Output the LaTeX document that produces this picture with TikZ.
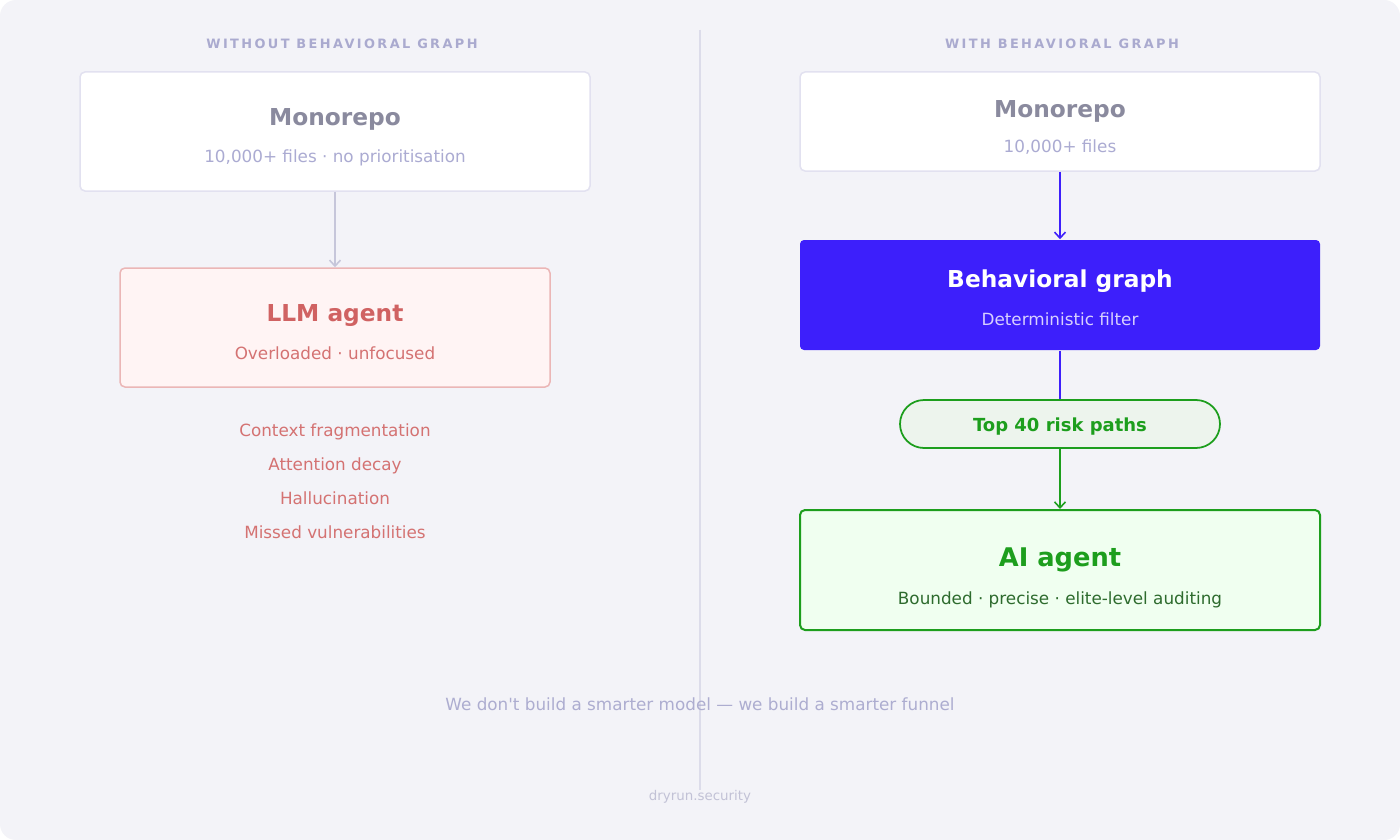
\documentclass[tikz,border=0pt]{standalone}
\usepackage{fontspec}
\setmainfont{DejaVu Sans}[Ligatures=TeXOff]
\usetikzlibrary{arrows.meta}
\definecolor{bgc}{HTML}{F3F3F8}
\definecolor{hdrc}{HTML}{AAAACF}
\definecolor{boxline}{HTML}{E2E1F0}
\definecolor{monot}{HTML}{8A8A9E}
\definecolor{subt}{HTML}{ABABD2}
\definecolor{greyarrow}{HTML}{C6C6DA}
\definecolor{llmfill}{HTML}{FFF4F4}
\definecolor{llmline}{HTML}{EBB6B6}
\definecolor{llmtitle}{HTML}{D06262}
\definecolor{llmsub}{HTML}{D47272}
\definecolor{blu}{HTML}{3D1FFB}
\definecolor{blusub}{HTML}{D8D0FF}
\definecolor{grn}{HTML}{1D9E1D}
\definecolor{pillfill}{HTML}{EDF4ED}
\definecolor{aifill}{HTML}{F0FFF0}
\definecolor{aisub}{HTML}{2D6B2D}
\definecolor{divc}{HTML}{DCDCEA}
\definecolor{footc}{HTML}{ADADD0}
\definecolor{brandc}{HTML}{C2C2D6}
\begin{document}
\begin{tikzpicture}[x=1pt,y=-1pt,
  box/.style={draw, line width=1.5pt, rounded corners=5pt, inner sep=0pt},
  hdr/.style={anchor=base, font=\fontsize{12.9}{15}\selectfont\bfseries\addfontfeature{LetterSpace=18.5}, text=hdrc},
  ttl/.style={anchor=base, font=\fontsize{23.3}{28}\selectfont\bfseries},
  sub/.style={anchor=base, font=\fontsize{16.8}{20}\selectfont},
  conn/.style={line width=1.6pt, -{Straight Barb[length=6pt,width=11pt,line width=1.6pt]}},
]
\useasboundingbox (0,0) rectangle (1400,840);
\fill[white] (0,0) rectangle (1400,840);
\fill[bgc, rounded corners=16pt] (0,0) rectangle (1400,840);
% divider
\draw[divc, line width=1.5pt] (700,30) -- (700,790);
% headers
\node[hdr] (hl) at (342,48.5) {WITHOUT BEHAVIORAL GRAPH};
\node[hdr] (hr) at (1062,48.5) {WITH BEHAVIORAL GRAPH};
% left column
\node[box, draw=boxline, fill=white, minimum width=510pt, minimum height=119pt] (monoL) at (335,131.5) {};
\node[ttl, text=monot] (monoLt) at (335,126) {Monorepo};
\node[sub, text=subt] (monoLs) at (335,162) {10,000+ files · no prioritisation};
\node[box, draw=llmline, fill=llmfill, minimum width=430pt, minimum height=119pt] (llm) at (335,327.5) {};
\node[ttl, text=llmtitle] (llmt) at (335,321.5) {LLM agent};
\node[sub, text=llmsub] (llms) at (335,359) {Overloaded · unfocused};
\node[sub, text=llmsub] (b1) at (335,436) {Context fragmentation};
\node[sub, text=llmsub] (b2) at (335,470) {Attention decay};
\node[sub, text=llmsub] (b3) at (335,504) {Hallucination};
\node[sub, text=llmsub] (b4) at (335,538) {Missed vulnerabilities};
\draw[conn, greyarrow] (monoL.south) -- (llm.north);
% right column
\node[box, draw=boxline, fill=white, minimum width=520pt, minimum height=99pt] (monoR) at (1060,121.5) {};
\node[ttl, text=monot] (monoRt) at (1060,118) {Monorepo};
\node[sub, text=subt] (monoRs) at (1060,152.5) {10,000+ files};
\node[box, draw=none, fill=blu, rounded corners=4pt, minimum width=520pt, minimum height=110pt] (bg) at (1060,295) {};
\node[ttl, text=white] (bgt) at (1060,287.5) {Behavioral graph};
\node[sub, text=blusub] (bgs) at (1060,325) {Deterministic filter};
\node[draw=grn, fill=pillfill, line width=1.75pt, rounded corners=24pt, minimum width=320pt, minimum height=48pt, inner sep=0pt] (pill) at (1060,424) {};
\node[anchor=base, font=\fontsize{18}{21}\selectfont\bfseries, text=grn] (pillt) at (1060,431) {Top 40 risk paths};
\node[box, draw=grn, fill=aifill, line width=2pt, minimum width=520pt, minimum height=120pt] (ai) at (1060,570) {};
\node[anchor=base, font=\fontsize{25.7}{30}\selectfont\bfseries, text=grn] (ait) at (1060,566.5) {AI agent};
\node[sub, text=aisub] (ais) at (1060,604) {Bounded · precise · elite-level auditing};
\draw[conn, blu] (monoR.south) -- (bg.north);
\draw[blu, line width=1.6pt] (bg.south) -- (pill.north);
\draw[conn, grn, line width=1.8pt] (pill.south) -- (ai.north);
% footer
\node[sub, text=footc] (foot) at (700,710) {We don't build a smarter model — we build a smarter funnel};
\node[anchor=base, font=\fontsize{13.4}{16}\selectfont, text=brandc] (brand) at (700,800.5) {dryrun.security};
\end{tikzpicture}
\end{document}
